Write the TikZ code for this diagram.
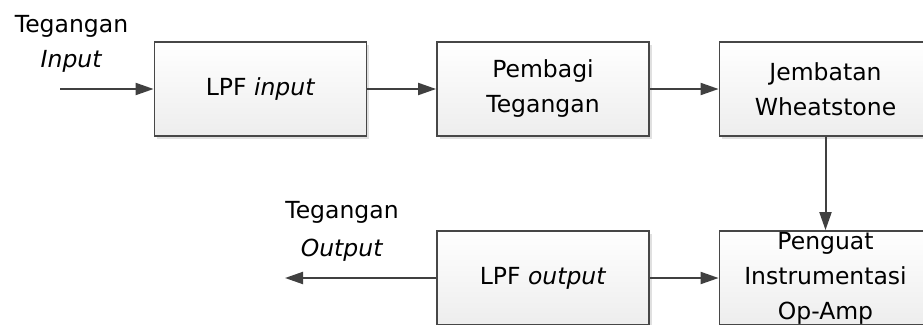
\documentclass[tikz,border=0pt]{standalone}
\usepackage{fontspec}
\setmainfont{DejaVu Sans}
\usetikzlibrary{arrows.meta,shadows}
\definecolor{edgec}{HTML}{474747}
\definecolor{arrc}{HTML}{404040}
\begin{document}
\begin{tikzpicture}[x=1pt,y=-1pt,
  blok/.style={draw=edgec, line width=1.8pt, top color=white, bottom color=black!7,
    minimum width=212pt, minimum height=94pt, inner sep=0pt, align=center,
    font=\fontsize{23.5}{35}\selectfont,
    drop shadow={shadow xshift=2.5pt, shadow yshift=-2.5pt, opacity=0.12, fill=black}},
  lbl/.style={anchor=base, inner sep=0pt, font=\fontsize{23.5}{35}\selectfont},
  panah/.style={draw=arrc, line width=2pt, -{Triangle[length=18pt,width=12pt]}}]
\useasboundingbox (0,0) rectangle (923,324);
\clip (0,0) rectangle (923,324);
\node[blok] (lpfin) at (260.5,89) {LPF \textit{input}};
\node[blok] (bagi) at (543,89) {Pembagi\\Tegangan};
\node[blok] (jemb) at (825.5,89) {Jembatan\\Wheatstone};
\node[blok] (peng) at (825.5,278) {Penguat\\Instrumentasi\\Op-Amp};
\node[blok] (lpfout) at (543,278) {LPF \textit{output}};
\node[lbl] (tin1) at (71.5,32) {Tegangan};
\node[lbl] (tin2) at (71.5,67) {\textit{Input}};
\node[lbl] (tout1) at (342,218) {Tegangan};
\node[lbl] (tout2) at (342,256) {\textit{Output}};
\coordinate (inS) at (60,89);
\coordinate (outE) at (285,278);
\draw[panah] (inS) -- (lpfin.west);
\draw[panah] (lpfin.east) -- (bagi.west);
\draw[panah] (bagi.east) -- (jemb.west);
\draw[panah] (jemb.south) -- (peng.north);
\draw[panah] (lpfout.east) -- (peng.west);
\draw[panah] (lpfout.west) -- (outE);
\end{tikzpicture}
\end{document}
